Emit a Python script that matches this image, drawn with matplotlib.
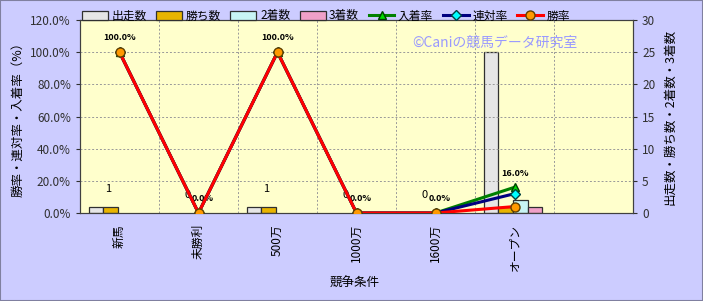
import matplotlib.pyplot as plt
import numpy as np
from matplotlib.patches import Rectangle, Patch

plt.rcParams['font.family'] = ['Noto Sans CJK JP', 'DejaVu Sans']

# data
categories = ['新馬', '未勝利', '500万', '1000万', '1600万', 'オープン', '']
starts = [1, 0, 1, 0, 0, 25, 0]
wins = [1, 0, 1, 0, 0, 1, 0]
seconds = [0, 0, 0, 0, 0, 2, 0]
thirds = [0, 0, 0, 0, 0, 1, 0]
place_rate = [100.0, 0.0, 100.0, 0.0, 0.0, 16.0]
quinella_rate = [100.0, 0.0, 100.0, 0.0, 0.0, 12.0]
win_rate = [100.0, 0.0, 100.0, 0.0, 0.0, 4.0]
rate_labels = ['100.0%', '0.0%', '100.0%', '0.0%', '0.0%', '16.0%']
count_labels = ['1', '0', '1', '0', '0']

W, H = 703, 301
fig = plt.figure(figsize=(W / 100, H / 100), dpi=100, facecolor='#ccccff')
fig.patches.append(Rectangle((0, 0), 1, 1, transform=fig.transFigure,
                             fill=False, edgecolor='#8080a0', lw=1.5))

ax2 = fig.add_axes([80 / W, (H - 213) / H, 553 / W, 193 / H])
ax = ax2.twinx()

x = np.arange(len(categories))
bw = 0.186
bar_specs = [(starts, '#e6e6e6', '出走数'), (wins, '#e8b400', '勝ち数'),
             (seconds, '#c8f4f4', '2着数'), (thirds, '#f0a0c8', '3着数')]
handles = []
for i, (vals, col, lab) in enumerate(bar_specs):
    ax.bar(x + (i - 1.5) * bw - 0.02, vals, bw, color=col, edgecolor='#303030',
           lw=[0.9 if v > 0 else 0 for v in vals], zorder=2)
    handles.append(Patch(facecolor=col, edgecolor='#303030', lw=0.9, label=lab))

for i, t in enumerate(count_labels):
    ax.annotate(t, (x[i] - 0.14, starts[i]), xytext=(0, 9), textcoords='offset points',
                ha='center', va='bottom', fontsize=8, color='black')

ax.set_ylim(0, 30)
ax.set_yticks(range(0, 31, 5))

# rate lines on left axis
xr = x[:len(win_rate)]
l1, = ax2.plot(xr, place_rate, color='#008000', lw=2.2, marker='^', ms=6,
               mfc='#00dd00', mec='#004000', label='入着率', zorder=3)
l2, = ax2.plot(xr, quinella_rate, color='#000080', lw=2.2, marker='D', ms=5,
               mfc='#00ffff', mec='#004040', label='連対率', zorder=3)
l3, = ax2.plot(xr, win_rate, color='#ff0000', lw=2.2, marker='o', ms=6.5,
               mfc='#ff9900', mec='#604000', label='勝率', zorder=4)
for i, t in enumerate(rate_labels):
    dx = 3 if place_rate[i] == 0 else 0
    ax2.annotate(t, (xr[i], place_rate[i]), xytext=(dx, 7), textcoords='offset points',
                 ha='center', va='bottom', fontsize=6.5, fontweight='bold')

# lines above bars, background of the bar axes behind everything
ax2.patch.set_visible(False)
ax.patch.set_visible(True)
ax.patch.set_facecolor('#ffffcc')
ax.set_zorder(0)
ax2.set_zorder(1)

ax2.set_ylim(0, 120)
ax2.set_yticks(range(0, 121, 20))
ax2.set_yticklabels([f'{v:.1f}%' for v in range(0, 121, 20)])
ax2.yaxis.tick_left()
ax2.yaxis.set_label_position('left')
ax.yaxis.tick_right()
ax.yaxis.set_label_position('right')
ax2.set_xlim(-0.5, len(categories) - 0.5)

for a in (ax, ax2):
    for s in a.spines.values():
        s.set_color('#404040')
    a.tick_params(axis='y', labelsize=8.5, length=3, colors='#303030')

# grid
for v in range(20, 120, 20):
    ax2.axhline(v, color='#999999', lw=0.7, ls=(0, (2, 2)), zorder=1)
for b in np.arange(0.5, len(categories) - 1, 1):
    ax2.axvline(b, color='#999999', lw=0.7, ls=(0, (2, 2)), zorder=1)

ax2.set_xticks(x)
ax2.set_xticklabels(categories, rotation=90, fontsize=8.5)
ax2.tick_params(axis='x', length=0, pad=8)

ax2.set_ylabel('勝率・連対率・入着率（%）', fontsize=9, labelpad=4)
ax.set_ylabel('出走数・勝ち数・2着数・3着数', fontsize=9, labelpad=6)
fig.text(355 / W, 1 - 283 / H, '競争条件', ha='center', va='center', fontsize=9)

fig.text(495 / W, 1 - 43 / H, '©Caniの競馬データ研究室', ha='center', va='center',
         fontsize=10, color='#9999ff')

all_h = handles + [l1, l2, l3]
fig.legend(all_h, [h.get_label() for h in all_h],
           loc='center', bbox_to_anchor=(326 / W, 1 - 16 / H), ncol=7, frameon=False,
           fontsize=8.5, handlelength=2.2, handletextpad=0.3, columnspacing=0.8)

plt.savefig('out.png', dpi=100, facecolor=fig.get_facecolor())
